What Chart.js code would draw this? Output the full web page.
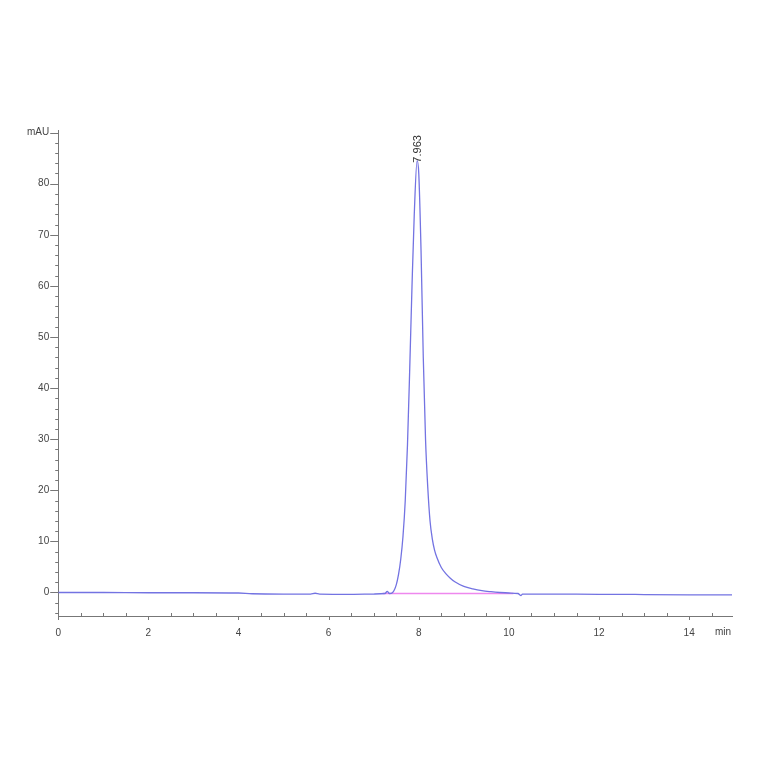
<!DOCTYPE html>
<html>
<head>
<meta charset="utf-8">
<script src="https://cdn.jsdelivr.net/npm/chart.js@4.4.1/dist/chart.umd.min.js"></script>
<style>
html,body{margin:0;padding:0;background:#fff;}
#wrap{width:764px;height:764px;}
</style>
</head>
<body>
<div id="wrap"><canvas id="c" width="764" height="764"></canvas></div>
<script>
// Retention time (min)
const times = [0, 1, 2, 3, 4, 4.3, 5, 5.6, 5.7, 5.8, 6.5, 7.0, 7.25, 7.3, 7.35, 7.42, 7.5, 7.55, 7.6, 7.65, 7.7, 7.75, 7.8, 7.85, 7.9, 7.963, 8.0, 8.05, 8.1, 8.15, 8.2, 8.25, 8.3, 8.35, 8.4, 8.5, 8.6, 8.7, 8.8, 9.0, 9.2, 9.4, 9.6, 9.8, 10.0, 10.2, 10.27, 10.3, 11, 12, 12.5, 13, 14, 14.95];
// Detector signal (mAU)
const signal = [0.0, 0.0, -0.05, -0.05, -0.1, -0.25, -0.3, -0.3, -0.15, -0.3, -0.35, -0.3, -0.2, 0.2, -0.2, 0.0, 1.5, 3.5, 6.5, 11, 18, 29, 44, 60, 74, 84.5, 82, 67, 46, 30, 20.5, 14, 10.5, 8.3, 6.9, 4.9, 3.7, 2.8, 2.1, 1.2, 0.7, 0.35, 0.15, 0.0, -0.1, -0.2, -0.6, -0.3, -0.3, -0.35, -0.35, -0.4, -0.45, -0.45];
// Integration baseline
const baseTimes = [7.2, 10.1];
const baseValues = [-0.2, -0.2];
// Peak annotation
const peakTime = 7.963;
const peakValue = 84.5;
const peakLabel = '7.963';
// Axis labels
const yUnit = 'mAU';
const xUnit = 'min';
const yTickStep = 2, yLabelStep = 10;
const xTickStep = 0.5, xLabelStep = 2;

const FONT = 'Liberation Sans';

const annot = {
  id: 'annot',
  afterDraw(chart) {
    const ctx = chart.ctx;
    const xs = chart.scales.x, ys = chart.scales.y;
    const a = chart.chartArea;
    ctx.save();
    ctx.strokeStyle = '#777';
    ctx.lineWidth = 1;
    ctx.beginPath();
    // y ticks
    for (let i = Math.ceil(ys.min / yTickStep); i * yTickStep <= ys.max; i++) {
      const v = i * yTickStep;
      const y = Math.round(ys.getPixelForValue(v)) + 0.5;
      const major = Math.abs(v % yLabelStep) < 1e-6;
      ctx.moveTo(a.left - (major ? 8 : 3), y);
      ctx.lineTo(a.left, y);
    }
    // x ticks
    for (let i = 0; i * xTickStep <= xs.max; i++) {
      const v = i * xTickStep;
      const x = Math.round(xs.getPixelForValue(v)) + 0.5;
      const major = Math.abs(v % xLabelStep) < 1e-6;
      if (major) { ctx.moveTo(x, a.bottom); ctx.lineTo(x, a.bottom + 4); }
      else { ctx.moveTo(x, a.bottom); ctx.lineTo(x, a.bottom - 3); }
    }
    // small overhang of y axis below x axis
    ctx.moveTo(Math.round(a.left) + 0.5, a.bottom);
    ctx.lineTo(Math.round(a.left) + 0.5, a.bottom + 3);
    ctx.stroke();
    ctx.restore();
    ctx.save();
    // peak label
    const px = xs.getPixelForValue(peakTime);
    const py = ys.getPixelForValue(peakValue);
    ctx.translate(px + 1, py + 2);
    ctx.rotate(-Math.PI / 2);
    ctx.fillStyle = '#333';
    ctx.font = '11px ' + FONT;
    ctx.textAlign = 'left';
    ctx.textBaseline = 'middle';
    ctx.fillText(peakLabel, 0, 0);
    ctx.restore();
    // x unit
    ctx.save();
    ctx.fillStyle = '#444';
    ctx.font = '10px ' + FONT;
    ctx.textAlign = 'center';
    ctx.textBaseline = 'middle';
    ctx.fillText(xUnit, xs.getPixelForValue(14.75), a.bottom + 16);
    ctx.restore();
  }
};

new Chart(document.getElementById('c'), {
  type: 'scatter',
  data: {
    datasets: [
      {
        data: baseTimes.map((t, i) => ({x: t, y: baseValues[i]})),
        showLine: true,
        borderColor: '#ee88ee',
        borderWidth: 1.3,
        pointRadius: 0,
        order: 2
      },
      {
        data: times.map((t, i) => ({x: t, y: signal[i]})),
        showLine: true,
        borderColor: '#7373e2',
        borderWidth: 1.3,
        pointRadius: 0,
        cubicInterpolationMode: 'monotone',
        order: 1
      }
    ]
  },
  options: {
    responsive: false,
    devicePixelRatio: 1,
    animation: false,
    layout: {padding: {left: 18, right: 32, top: 130, bottom: 114}},
    plugins: {legend: {display: false}, tooltip: {enabled: false}},
    scales: {
      x: {
        type: 'linear',
        min: 0, max: 14.95,
        border: {display: true, color: '#777', width: 1},
        grid: {display: false, drawTicks: false},
        ticks: {
          stepSize: xLabelStep,
          includeBounds: false,
          autoSkip: false,
          maxRotation: 0,
          padding: 11,
          color: '#444',
          font: {family: FONT, size: 10},
          callback: (v) => String(v)
        }
      },
      y: {
        type: 'linear',
        min: -4.6, max: 90.5,
        border: {display: true, color: '#777', width: 1},
        grid: {display: false, drawTicks: false},
        ticks: {
          stepSize: yLabelStep,
          includeBounds: false,
          autoSkip: false,
          padding: 9,
          color: '#444',
          font: {family: FONT, size: 10},
          callback: (v) => (Math.abs(v - 90) < 1e-6) ? yUnit : String(v)
        }
      }
    }
  },
  plugins: [annot]
});
</script>
</body>
</html>
